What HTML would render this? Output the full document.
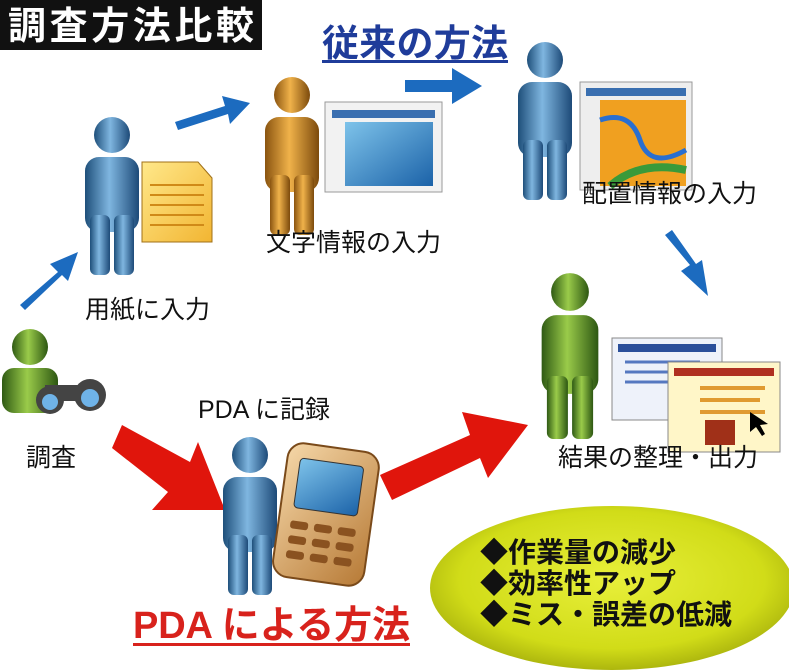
<!DOCTYPE html>
<html><head><meta charset="utf-8"><style>
html,body{margin:0;padding:0;background:#fff}
svg{display:block}
text{font-family:"Liberation Sans","Noto Sans CJK JP",sans-serif}
</style></head><body>
<svg width="789" height="672" viewBox="0 0 789 672" xmlns="http://www.w3.org/2000/svg">
<defs>
<linearGradient id="blue" x1="0" x2="1"><stop offset="0" stop-color="#1e4f7a"/><stop offset=".45" stop-color="#7fb6e0"/><stop offset="1" stop-color="#1d4a78"/></linearGradient>
<linearGradient id="green" x1="0" x2="1"><stop offset="0" stop-color="#2f5a14"/><stop offset=".45" stop-color="#9acb4a"/><stop offset="1" stop-color="#2d5712"/></linearGradient>
<linearGradient id="orange" x1="0" x2="1"><stop offset="0" stop-color="#8a5410"/><stop offset=".45" stop-color="#f0b24a"/><stop offset="1" stop-color="#7c4a0c"/></linearGradient>
<radialGradient id="ell" cx=".5" cy=".45" r=".6"><stop offset="0" stop-color="#e8ef3a"/><stop offset=".7" stop-color="#d1dc18"/><stop offset="1" stop-color="#9fa80a"/></radialGradient>
<linearGradient id="scr" x1="0" y1="0" x2="1" y2="1"><stop offset="0" stop-color="#7ec3ea"/><stop offset="1" stop-color="#1b62a8"/></linearGradient>
<linearGradient id="paper" x1="0" y1="0" x2="1" y2="1"><stop offset="0" stop-color="#ffe88a"/><stop offset="1" stop-color="#f2b532"/></linearGradient>
<linearGradient id="phone" x1="0" y1="0" x2="1" y2="1"><stop offset="0" stop-color="#f5d7a8"/><stop offset="1" stop-color="#b77a36"/></linearGradient>
<g id="pb"><circle cx="0" cy="0" r="18"/><rect x="-27" y="22" width="54" height="75" rx="14"/><rect x="-22" y="80" width="20" height="60" rx="6"/><rect x="2" y="80" width="20" height="60" rx="6"/></g>
</defs>

<rect x="0" y="0" width="262" height="50" fill="#111"/>
<text x="8" y="39" font-size="38" font-weight="bold" fill="#fff" textLength="246">調査方法比較</text>

<text x="322" y="56" font-size="37" font-weight="bold" fill="#1f3c9a" textLength="186">従来の方法</text>
<rect x="322" y="60" width="186" height="3" fill="#1f3c9a"/>

<text x="133" y="638" font-size="38" font-weight="bold" fill="#d8221c" textLength="277">PDA による方法</text>
<rect x="133" y="643" width="277" height="3" fill="#d8221c"/>

<g fill="#1c6bbf">
<polygon points="20,305 58,272 50,264 78,252 68,281 62,275 25,310"/>
<polygon points="175,122 225,106 222,96 250,103 230,124 228,114 178,130"/>
<polygon points="405,80 452,80 452,68 482,86 452,104 452,92 405,92"/>
<polygon points="665,235 690,265 681,271 708,296 702,260 696,264 672,230"/>
</g>
<g fill="#e0150c">
<polygon points="112,448 122,425 190,462 198,442 225,510 152,510 168,492"/>
<polygon points="380,475 470,435 462,412 528,425 488,478 480,458 392,500"/>
</g>

<use href="#pb" x="112" y="135" fill="url(#blue)"/>
<use href="#pb" x="292" y="95" fill="url(#orange)"/>
<use href="#pb" x="545" y="60" fill="url(#blue)"/>
<use href="#pb" x="570" y="292" fill="url(#green)" transform="translate(570 292) scale(1.05) translate(-570 -292)"/>
<use href="#pb" x="250" y="455" fill="url(#blue)"/>
<circle cx="30" cy="347" r="18" fill="url(#green)"/>
<rect x="2" y="368" width="56" height="45" rx="12" fill="url(#green)"/>
<g fill="#444"><circle cx="50" cy="400" r="14"/><circle cx="90" cy="395" r="16"/><rect x="45" y="385" width="50" height="16"/></g>
<circle cx="50" cy="402" r="8" fill="#6fb3e8"/><circle cx="90" cy="398" r="9" fill="#6fb3e8"/>

<polygon points="142,162 198,162 212,178 212,242 142,242" fill="url(#paper)" stroke="#a07018"/>
<g stroke="#d08a18" stroke-width="2"><line x1="150" y1="185" x2="204" y2="185"/><line x1="150" y1="195" x2="204" y2="195"/><line x1="150" y1="205" x2="204" y2="205"/><line x1="150" y1="215" x2="204" y2="215"/><line x1="150" y1="225" x2="204" y2="225"/></g>

<rect x="325" y="102" width="117" height="90" fill="#f2f2f2" stroke="#999"/>
<rect x="332" y="110" width="103" height="8" fill="#3a6fb0"/>
<rect x="345" y="122" width="88" height="64" fill="url(#scr)"/>
<rect x="580" y="82" width="112" height="108" fill="#eee" stroke="#999"/>
<rect x="586" y="88" width="100" height="8" fill="#3a6fb0"/>
<rect x="600" y="100" width="86" height="86" fill="#f0a020"/>
<path d="M600,120 Q630,110 640,140 T686,150" stroke="#2a6fd0" stroke-width="5" fill="none"/>
<path d="M610,186 Q640,160 686,170" stroke="#3a9a3a" stroke-width="8" fill="none"/>
<rect x="612" y="338" width="110" height="82" fill="#eef2fa" stroke="#888"/>
<rect x="618" y="344" width="98" height="8" fill="#2a4f9a"/>
<g stroke="#5578c0" stroke-width="3"><line x1="625" y1="362" x2="700" y2="362"/><line x1="625" y1="372" x2="700" y2="372"/><line x1="625" y1="382" x2="700" y2="382"/></g>
<rect x="668" y="362" width="112" height="90" fill="#fff6c8" stroke="#888"/>
<rect x="674" y="368" width="100" height="8" fill="#b03020"/>
<g stroke="#e09a30" stroke-width="4"><line x1="700" y1="388" x2="765" y2="388"/><line x1="700" y1="400" x2="760" y2="400"/><line x1="700" y1="412" x2="765" y2="412"/></g>
<rect x="705" y="420" width="30" height="25" fill="#a03018"/>
<polygon points="750,412 750,432 756,427 762,436 765,434 760,425 768,424" fill="#000"/>

<rect x="280" y="447" width="92" height="135" rx="16" fill="url(#phone)" stroke="#7a4a1a" stroke-width="2" transform="rotate(8 326 514)"/>
<rect x="293" y="462" width="64" height="50" rx="4" fill="url(#scr)" stroke="#333" transform="rotate(8 326 514)"/>
<g fill="#8a5220" transform="rotate(8 326 514)"><rect x="292" y="525" width="18" height="8" rx="3"/><rect x="316" y="525" width="18" height="8" rx="3"/><rect x="340" y="525" width="18" height="8" rx="3"/><rect x="292" y="540" width="18" height="8" rx="3"/><rect x="316" y="540" width="18" height="8" rx="3"/><rect x="340" y="540" width="18" height="8" rx="3"/><rect x="292" y="555" width="18" height="8" rx="3"/><rect x="316" y="555" width="18" height="8" rx="3"/><rect x="340" y="555" width="18" height="8" rx="3"/></g>

<g font-size="25" fill="#111">
<text x="85" y="318">用紙に入力</text>
<text x="266" y="251">文字情報の入力</text>
<text x="582" y="202">配置情報の入力</text>
<text x="558" y="466">結果の整理・出力</text>
<text x="26" y="466">調査</text>
<text x="198" y="418">PDA に記録</text>
</g>

<ellipse cx="612" cy="588" rx="182" ry="82" fill="url(#ell)"/>
<g font-size="28" font-weight="bold" fill="#111">
<text x="480" y="562">◆作業量の減少</text>
<text x="480" y="593">◆効率性アップ</text>
<text x="480" y="624">◆ミス・誤差の低減</text>
</g>
</svg>
</body></html>
